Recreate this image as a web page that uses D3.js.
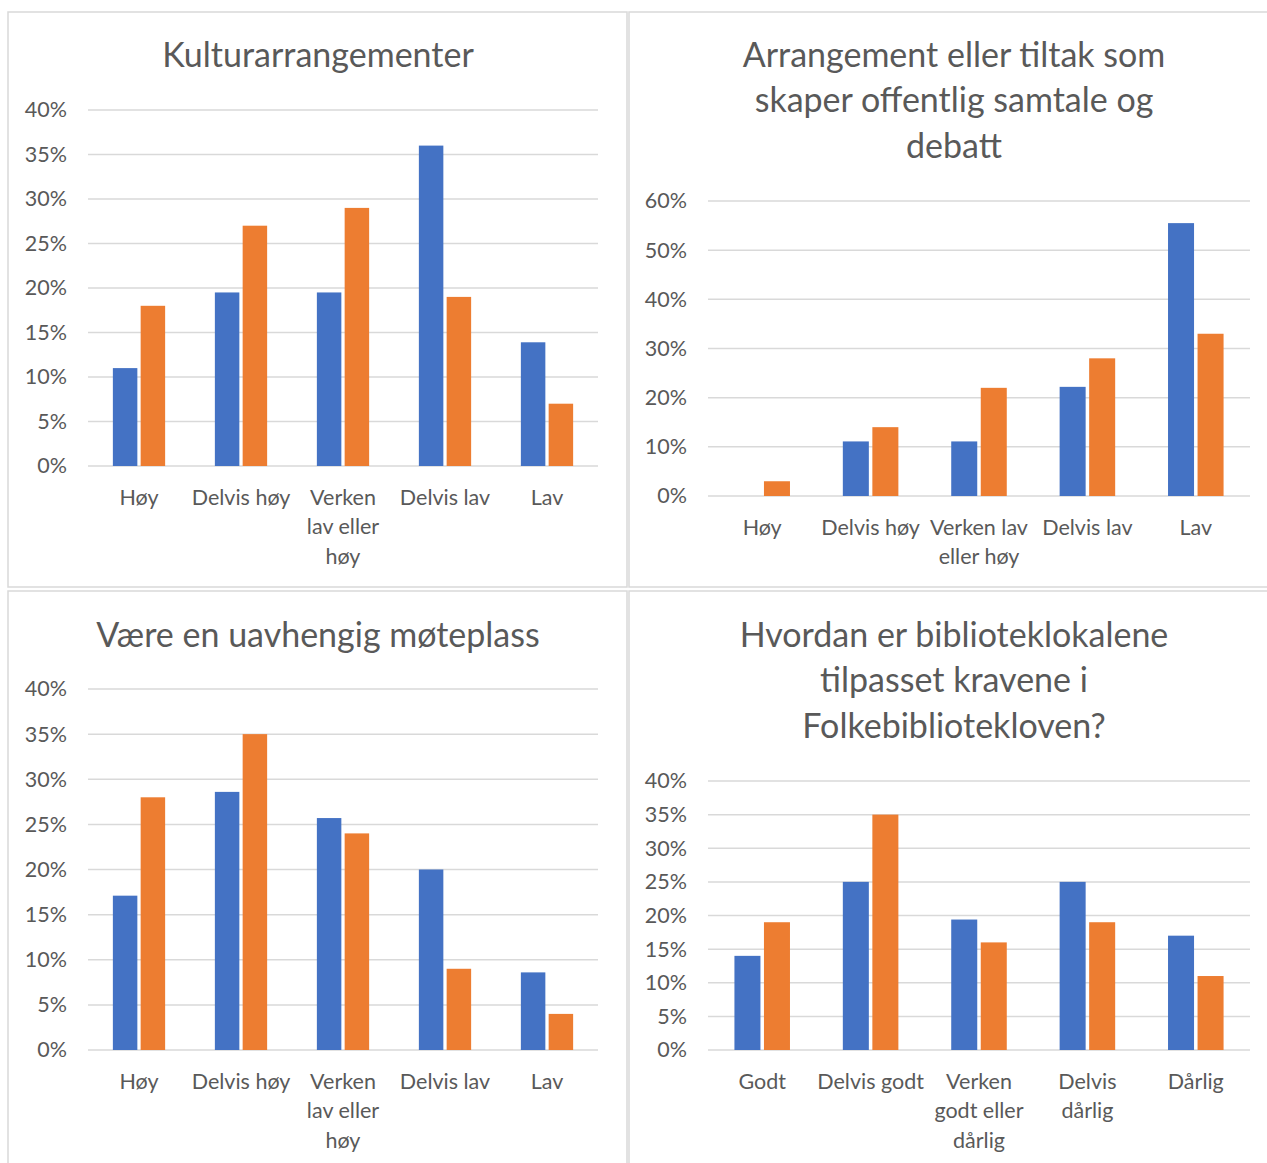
<!DOCTYPE html>
<html>
<head>
<meta charset="utf-8">
<script src="https://cdn.jsdelivr.net/npm/d3@7"></script>
<style>
  html, body { margin: 0; padding: 0; background: #ffffff; }
  svg { display: block; }
  text { font-family: Lato, "Open Sans", sans-serif; fill: #595959; }
</style>
</head>
<body>
<svg id="chart" width="1267" height="1163"></svg>
<script>
// ---------- DATA ----------
const seriesNames = ["Serie 1", "Serie 2"];

const title1 = ["Kulturarrangementer"];
const categories1 = ["Høy", "Delvis høy", "Verken lav eller høy", "Delvis lav", "Lav"];
const tickLabels1 = [["Høy"], ["Delvis høy"], ["Verken", "lav eller", "høy"], ["Delvis lav"], ["Lav"]];
const blue1 = [11, 19.5, 19.5, 36, 13.9];
const orange1 = [18, 27, 29, 19, 7];
const yTicks1 = [0, 5, 10, 15, 20, 25, 30, 35, 40];

const title2 = ["Arrangement eller tiltak som", "skaper offentlig samtale og", "debatt"];
const categories2 = ["Høy", "Delvis høy", "Verken lav eller høy", "Delvis lav", "Lav"];
const tickLabels2 = [["Høy"], ["Delvis høy"], ["Verken lav", "eller høy"], ["Delvis lav"], ["Lav"]];
const blue2 = [0, 11.1, 11.1, 22.2, 55.5];
const orange2 = [3, 14, 22, 28, 33];
const yTicks2 = [0, 10, 20, 30, 40, 50, 60];

const title3 = ["Være en uavhengig møteplass"];
const categories3 = ["Høy", "Delvis høy", "Verken lav eller høy", "Delvis lav", "Lav"];
const tickLabels3 = [["Høy"], ["Delvis høy"], ["Verken", "lav eller", "høy"], ["Delvis lav"], ["Lav"]];
const blue3 = [17.1, 28.6, 25.7, 20, 8.6];
const orange3 = [28, 35, 24, 9, 4];
const yTicks3 = [0, 5, 10, 15, 20, 25, 30, 35, 40];

const title4 = ["Hvordan er biblioteklokalene", "tilpasset kravene i", "Folkebiblioteklove" + "n?"];
const categories4 = ["Godt", "Delvis godt", "Verken godt eller dårlig", "Delvis dårlig", "Dårlig"];
const tickLabels4 = [["Godt"], ["Delvis godt"], ["Verken", "godt eller", "dårlig"], ["Delvis", "dårlig"], ["Dårlig"]];
const blue4 = [14, 25, 19.4, 25, 17];
const orange4 = [19, 35, 16, 19, 11];
const yTicks4 = [0, 5, 10, 15, 20, 25, 30, 35, 40];

const colors = ["#4472C4", "#ED7D31"];

// ---------- LAYOUT ----------
const panels = [
  { title: title1, cats: categories1, ticks: tickLabels1, series: [blue1, orange1], yTicks: yTicks1,
    box: [8, 12, 619, 575], cx: 318, titleY: 55, left: 88, right: 598, y0: 466, yTop: 110 },
  { title: title2, cats: categories2, ticks: tickLabels2, series: [blue2, orange2], yTicks: yTicks2,
    box: [629, 12, 650, 575], cx: 954, titleY: 55, left: 708, right: 1250, y0: 496, yTop: 201 },
  { title: title3, cats: categories3, ticks: tickLabels3, series: [blue3, orange3], yTicks: yTicks3,
    box: [8, 591, 619, 600], cx: 318, titleY: 635, left: 88, right: 598, y0: 1050, yTop: 689 },
  { title: title4, cats: categories4, ticks: tickLabels4, series: [blue4, orange4], yTicks: yTicks4,
    box: [629, 591, 650, 600], cx: 954, titleY: 635, left: 708, right: 1250, y0: 1050, yTop: 781 }
];

const svg = d3.select("#chart");

panels.forEach(p => {
  const g = svg.append("g");

  g.append("rect")
    .attr("x", p.box[0]).attr("y", p.box[1])
    .attr("width", p.box[2]).attr("height", p.box[3])
    .attr("fill", "#ffffff").attr("stroke", "#d9d9d9").attr("stroke-width", 1.5);

  // title
  g.append("text")
    .attr("text-anchor", "middle")
    .attr("font-size", 34)
    .selectAll("tspan").data(p.title).join("tspan")
    .attr("x", p.cx)
    .attr("y", (d, i) => p.titleY + i * 45.5)
    .attr("dy", "0.35em")
    .text(d => d);

  const yMax = p.yTicks[p.yTicks.length - 1];
  const y = d3.scaleLinear().domain([0, yMax]).range([p.y0, p.yTop]);
  const x = d3.scaleBand().domain(p.cats).range([p.left, p.right])
    .paddingInner(0.4876).paddingOuter(0.2438);
  const xs = d3.scaleBand().domain(d3.range(p.series.length)).range([0, x.bandwidth()])
    .paddingInner(0.119);

  // gridlines
  g.append("g").selectAll("line").data(p.yTicks).join("line")
    .attr("x1", p.left).attr("x2", p.right)
    .attr("y1", d => y(d)).attr("y2", d => y(d))
    .attr("stroke", "#d9d9d9").attr("stroke-width", 1.5);

  // y axis labels
  const yAxis = d3.axisLeft(y).tickValues(p.yTicks).tickFormat(d => d + "%").tickSize(0).tickPadding(21);
  const ya = g.append("g").attr("transform", `translate(${p.left},0)`).call(yAxis);
  ya.select(".domain").remove();
  ya.selectAll("text").attr("font-size", 21.5).attr("fill", "#595959")
    .style("font-family", "Lato, 'Open Sans', sans-serif");

  // bars
  p.series.forEach((vals, si) => {
    g.append("g").selectAll("rect").data(vals).join("rect")
      .attr("x", (d, i) => x(p.cats[i]) + xs(si))
      .attr("width", xs.bandwidth())
      .attr("y", d => y(d))
      .attr("height", d => y(0) - y(d))
      .attr("fill", colors[si]);
  });

  // x tick labels
  const xl = g.append("g");
  p.cats.forEach((c, i) => {
    xl.append("text")
      .attr("text-anchor", "middle")
      .attr("font-size", 21.5)
      .selectAll("tspan").data(p.ticks[i]).join("tspan")
      .attr("x", x(c) + x.bandwidth() / 2)
      .attr("y", (d, j) => p.y0 + 31 + j * 29.8)
      .attr("dy", "0.35em")
      .text(d => d);
  });
});
</script>
</body>
</html>
